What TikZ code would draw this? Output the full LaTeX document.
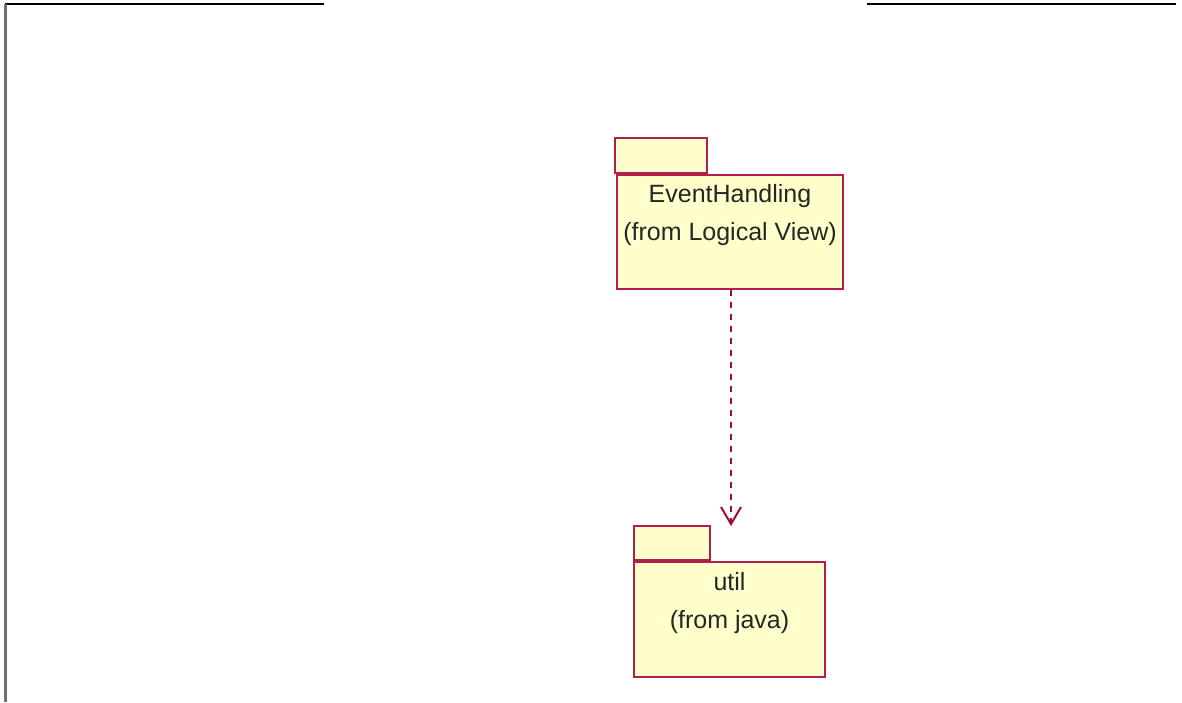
\documentclass[tikz,border=0pt]{standalone}
\usepackage{fontspec}
\setmainfont{Liberation Sans}
\usetikzlibrary{arrows.meta,calc}
\definecolor{pkgline}{RGB}{180,30,75}
\definecolor{pkgfill}{RGB}{255,255,204}
\definecolor{deparrow}{RGB}{160,10,60}
\definecolor{framegray}{RGB}{110,110,110}
\tikzset{
  pkgbody/.style={draw=pkgline, fill=pkgfill, line width=2pt, inner sep=0pt, anchor=north west},
  pkgtab/.style={draw=pkgline, fill=pkgfill, line width=2pt, inner sep=0pt, anchor=south west},
  pkgtext/.style={align=center, inner sep=0pt, text=black!85, font=\fontsize{25}{38}\selectfont},
  depend/.style={draw=deparrow, line width=2pt, dash pattern=on 6pt off 6pt,
    -{Straight Barb[length=17pt,width=20pt,line width=2pt]}},
}
\begin{document}
\begin{tikzpicture}[x=1pt,y=-1pt]
  \useasboundingbox (0,0) rectangle (1182,702);
  % frame edges
  \draw[line width=2pt] (5,4) -- (324,4);
  \draw[line width=2pt] (867,4) -- (1176,4);
  \draw[framegray, line width=3pt] (5,4) -- (5,702);

  % EventHandling package
  \node[pkgtab, minimum width=92pt, minimum height=35pt] (ehtab) at (614,174) {};
  \node[pkgbody, minimum width=226pt, minimum height=114pt] (eh) at (616,174) {};
  \node[pkgtext] (ehlabel) at ($(eh.north)+(0,41.5)$) {EventHandling\\(from Logical View)};

  % util package
  \node[pkgtab, minimum width=76pt, minimum height=34pt] (utiltab) at (633,561) {};
  \node[pkgbody, minimum width=191pt, minimum height=115pt] (util) at (633,561) {};
  \node[pkgtext] (utillabel) at ($(util.north)+(0,42)$) {util\\(from java)};

  % dependency
  \coordinate (deptip) at ($(util.north)+(1.5,-35)$);
  \draw[depend] ($(eh.south)+(1,0)$) -- (deptip);
\end{tikzpicture}
\end{document}
